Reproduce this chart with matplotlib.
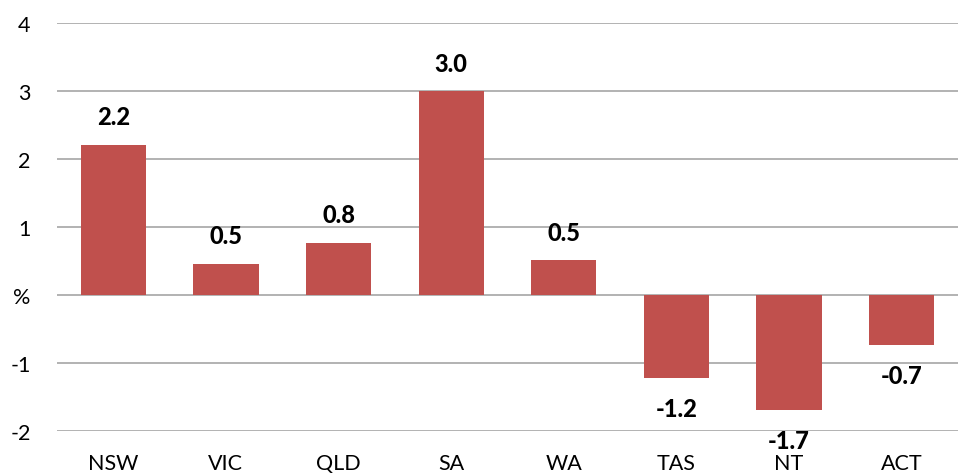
import matplotlib.pyplot as plt

# --- DATA ---
states = ['NSW', 'VIC', 'QLD', 'SA', 'WA', 'TAS', 'NT', 'ACT']
values = [2.21, 0.46, 0.77, 3.0, 0.51, -1.22, -1.69, -0.74]
labels = ['2.2', '0.5', '0.8', '3.0', '0.5', '-1.2', '-1.7', '-0.7']
yticks = [-2, -1, 0, 1, 2, 3, 4]
ytick_labels = ['-2', '-1', '%', '1', '2', '3', '4']

plt.rcParams['font.family'] = ['Lato', 'DejaVu Sans']

fig = plt.figure(figsize=(9.58, 4.77), dpi=100)
ax = fig.add_axes([57 / 958, 1 - 432 / 477, 901 / 958, 408 / 477])

x = range(len(states))
ax.bar(x, values, width=0.58, color='#C0504D', zorder=3)

# value labels, above positive bars, below negative ones
for i, (v, lab) in enumerate(zip(values, labels)):
    off = 20 if v >= 0 else -22
    ax.annotate(lab, (i, v), xytext=(0, off), textcoords='offset points',
                ha='center', va='center', fontsize=17, fontweight='black',
                color='black', zorder=4)

ax.set_xlim(-0.5, len(states) - 0.5)
ax.set_ylim(-2, 4)
ax.set_yticks(yticks)
ax.set_yticklabels(ytick_labels, fontsize=15.5)
ax.set_xticks(list(x))
ax.set_xticklabels(states, fontsize=15.5)
ax.tick_params(axis='both', length=0)
ax.tick_params(axis='y', pad=19)
ax.tick_params(axis='x', pad=16)

ax.grid(axis='y', color='#A6A6A6', linewidth=1.2, zorder=0)
for s in ax.spines.values():
    s.set_visible(False)

fig.savefig('out.png', dpi=100)
